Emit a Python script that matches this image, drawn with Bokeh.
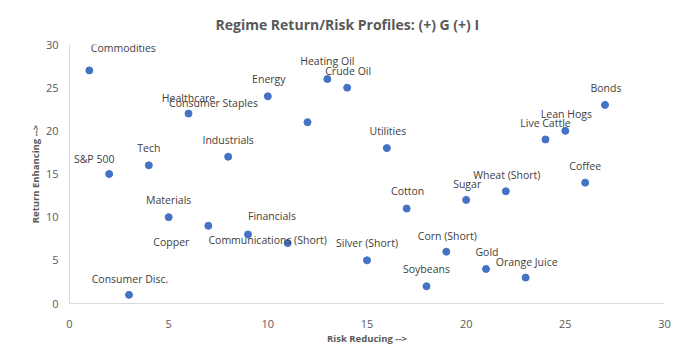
from bokeh.plotting import figure
from bokeh.models import ColumnDataSource, Title
from bokeh.embed import file_html
from bokeh.resources import INLINE
from bokeh.core.properties import value

# ---- data ----
names = ["S&P 500", "Commodities", "Tech", "Materials", "Consumer Disc.", "Copper",
         "Healthcare", "Consumer Staples", "Industrials", "Energy", "Financials",
         "Communications (Short)", "Heating Oil", "Crude Oil", "Utilities",
         "Silver (Short)", "Cotton", "Soybeans", "Corn (Short)", "Sugar", "Gold",
         "Wheat (Short)", "Orange Juice", "Live Cattle", "Lean Hogs", "Coffee", "Bonds"]
risk_reducing = [2, 1, 4, 5, 3, 7, 6, 12, 8, 10, 9, 11, 13, 14, 16, 15, 17, 18, 19,
                 20, 21, 22, 23, 24, 25, 26, 27]
return_enhancing = [15, 27, 16, 10, 1, 9, 22, 21, 17, 24, 8, 7, 26, 25, 18, 5, 11, 2,
                    6, 12, 4, 13, 3, 19, 20, 14, 23]
x_ticks = [0, 5, 10, 15, 20, 25, 30]
y_ticks = [0, 5, 10, 15, 20, 25, 30]

# label placement (screen px offsets from each point; style only)
label_dx = [-15, 34, 0, 0, 1, -37, 0, -94, 0, 1, 24, -20, 0, 1, 1, 0, 1, 0, 1, 1, 1,
            1, 1, 0, 1, 0, 1]
label_dy = [-15, -22, -17, -17, -16, 16, -16, -19, -17, -17, -18, -3, -18, -17, -17,
            -17, -18, -17, -16, -16, -17, -16, -16, -16, -17, -17, -17]

src = ColumnDataSource(dict(x=risk_reducing, y=return_enhancing, name=names,
                            dx=label_dx, dy=label_dy))

p = figure(width=687, height=349, x_range=(0, 30), y_range=(0, 30),
           output_backend="svg", toolbar_location=None,
           min_border_left=69, min_border_right=23, min_border_top=44,
           min_border_bottom=46)
p.outline_line_color = None
p.xgrid.grid_line_color = None
p.ygrid.grid_line_color = None

title = Title(text="Regime Return/Risk Profiles: (+) G (+) I", align="left",
              offset=146, standoff=18, vertical_align="top",
              text_font="Open Sans", text_font_size="14px",
              text_font_style="bold", text_color="#595959")
p.add_layout(title, "above")

for ax in (p.xaxis[0], p.yaxis[0]):
    ax.axis_line_color = "#D9D9D9"
    ax.major_tick_line_color = None
    ax.minor_tick_line_color = None
    ax.major_label_text_font = "Open Sans"
    ax.major_label_text_font_size = "11px"
    ax.major_label_text_color = "#595959"
    ax.axis_label_text_font = "Open Sans"
    ax.axis_label_text_font_size = "9.5px"
    ax.axis_label_text_font_style = "bold"
    ax.axis_label_text_color = "#595959"

p.xaxis.ticker = x_ticks
p.yaxis.ticker = y_ticks
p.xaxis.axis_label = "Risk Reducing -->"
p.yaxis.axis_label = "Return Enhancing -->"
p.xaxis.major_label_standoff = 10
p.yaxis.major_label_standoff = 5
p.xaxis.axis_label_standoff = 1
p.yaxis.axis_label_standoff = 1

p.scatter("x", "y", source=src, size=7, fill_color="#4472C4", line_color="#4472C4")
p.text("x", "y", text="name", source=src, x_offset="dx", y_offset="dy",
       text_align="center", text_baseline="middle", text_font=value("Open Sans"),
       text_font_size="10.5px", text_color="#404040")

open("out.html", "w").write(file_html(p, INLINE))
